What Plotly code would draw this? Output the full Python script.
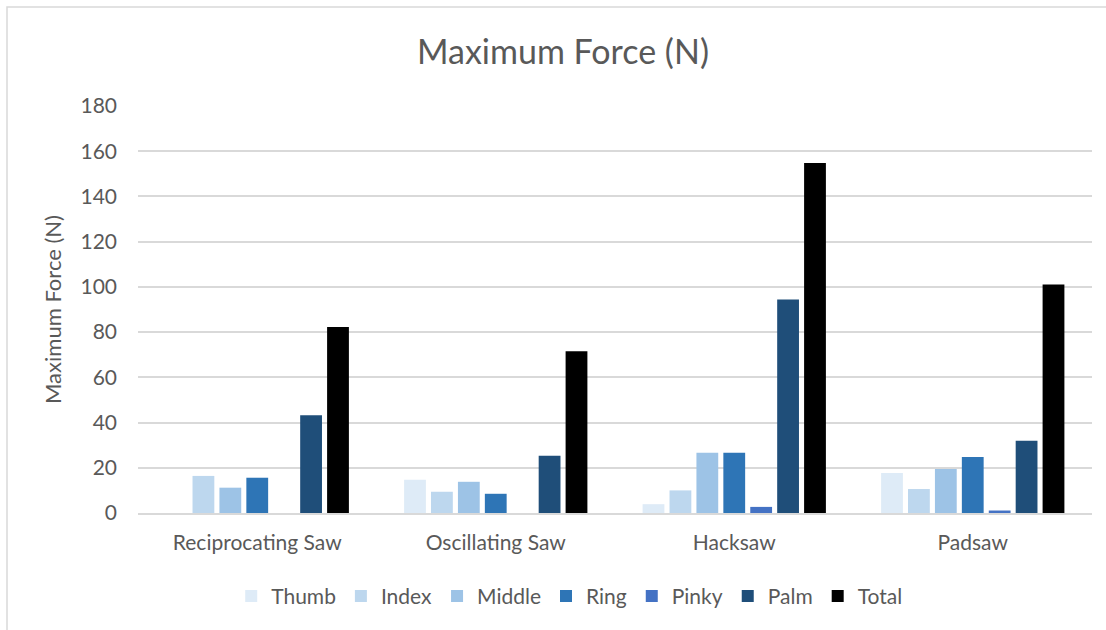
import plotly.graph_objects as go

# Saw types and peak force per hand region (N)
saws = ["Reciprocating Saw", "Oscillating Saw", "Hacksaw", "Padsaw"]
thumb = [0, 14.7, 3.9, 17.7]
index = [16.4, 9.4, 10.0, 10.6]
middle = [11.2, 13.8, 26.7, 19.5]
ring = [15.6, 8.5, 26.7, 24.8]
pinky = [0, 0, 2.7, 1.1]
palm = [43.2, 25.3, 94.4, 31.9]
total = [82.3, 71.5, 154.8, 101.1]

series = [
    ("Thumb", thumb, "#DEEBF7"),
    ("Index", index, "#BDD7EE"),
    ("Middle", middle, "#9DC3E6"),
    ("Ring", ring, "#2E75B6"),
    ("Pinky", pinky, "#4472C4"),
    ("Palm", palm, "#1F4E79"),
    ("Total", total, "#000000"),
]

FONT = "Lato, 'Open Sans', sans-serif"
GREY = "#595959"

fig = go.Figure()
for name, vals, color in series:
    fig.add_trace(go.Bar(
        name=name, x=saws, y=vals,
        marker=dict(color=color, line=dict(width=0)),
    ))

fig.update_layout(
    width=1106, height=630,
    margin=dict(l=138, r=14, t=106, b=117),
    paper_bgcolor="white", plot_bgcolor="white",
    barmode="group", bargap=0.21, bargroupgap=0.19,
    font=dict(family=FONT, color=GREY, size=21),
    title=dict(text="Maximum Force (N)", x=0.509, xanchor="center",
               y=0.917, yanchor="middle",
               font=dict(family=FONT, size=34, color=GREY)),
    xaxis=dict(showgrid=False, showline=True, linecolor="#D9D9D9", linewidth=1.5,
               ticks="", tickfont=dict(size=21, color=GREY), ticklabelstandoff=10),
    yaxis=dict(range=[0, 180], dtick=20, showgrid=True, gridcolor="#D9D9D9",
               gridwidth=1.5, zeroline=False, showline=False, ticks="",
               tickfont=dict(size=21, color=GREY), ticklabelstandoff=20,
               title=dict(text="Maximum Force (N)", standoff=12,
                          font=dict(size=22, color=GREY))),
    legend=dict(orientation="h", x=0.452, xanchor="center", y=-0.205,
                yanchor="middle", font=dict(size=21, color=GREY),
                itemwidth=30, traceorder="normal"),
    shapes=[dict(type="rect", xref="paper", yref="paper",
                 x0=(7 - 138) / 954, x1=(1120 - 138) / 954,
                 y0=(513 - 650) / 407, y1=(513 - 7) / 407,
                 line=dict(color="#D9D9D9", width=1.5), fillcolor="rgba(0,0,0,0)",
                 layer="below")],
)

fig.write_html("out.html")
